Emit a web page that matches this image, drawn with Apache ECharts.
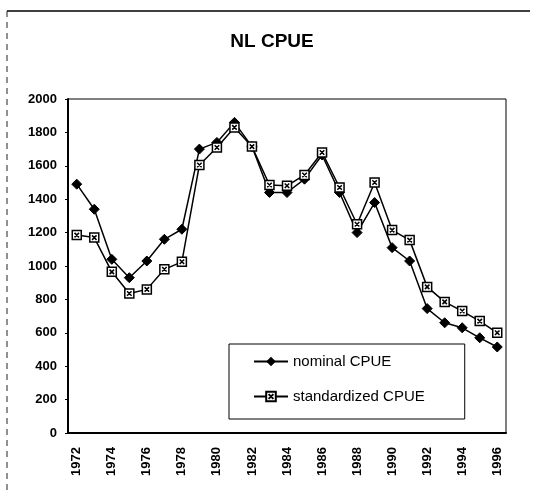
<!DOCTYPE html>
<html>
<head>
<meta charset="utf-8">
<script src="https://cdn.jsdelivr.net/npm/echarts@6/dist/echarts.min.js"></script>
<style>
  html, body { margin: 0; padding: 0; background: #fff; }
  #main { width: 554px; height: 495px; }
</style>
</head>
<body>
<div id="main"></div>
<script type="text/javascript">
// years on the x axis
var years = ['1972','1973','1974','1975','1976','1977','1978','1979','1980','1981','1982','1983','1984',
             '1985','1986','1987','1988','1989','1990','1991','1992','1993','1994','1995','1996'];
// values
var nominal = [1490, 1340, 1040, 930, 1030, 1160, 1220, 1700, 1740, 1860, 1715, 1440, 1440,
               1520, 1665, 1440, 1200, 1380, 1110, 1030, 745, 660, 630, 570, 515];
var standardized = [1185, 1170, 965, 835, 860, 980, 1025, 1605, 1710, 1830, 1715, 1485, 1480,
                    1545, 1680, 1470, 1250, 1500, 1215, 1155, 875, 785, 730, 670, 600];

var font = '"Liberation Sans", Arial, sans-serif';
// square with a cross inside, for the standardized series
var boxX = 'path://M0,0 L10,0 L10,10 L0,10 Z M2.5,2.5 L7.5,7.5 M7.5,2.5 L2.5,7.5';

var myChart = echarts.init(document.getElementById('main'));
var option = {
    backgroundColor: '#fff',
    animation: false,
    title: {
        text: 'NL CPUE',
        left: 267,
        textAlign: 'center',
        top: 27,
        textStyle: { fontFamily: font, fontSize: 19, fontWeight: 'bold', color: '#000' }
    },
    // page frame (top edge and scanned left edge)
    graphic: [
        { type: 'line', shape: { x1: 7, y1: 11, x2: 530, y2: 11 }, style: { stroke: '#000', lineWidth: 1.5 } },
        { type: 'line', shape: { x1: 7, y1: 11, x2: 7, y2: 495 }, style: { stroke: '#222', lineWidth: 1, lineDash: [6, 5] } }
    ],
    legend: {
        orient: 'vertical',
        left: 229,
        top: 344,
        padding: [10, 40, 15, 24],
        itemGap: 20,
        itemWidth: 34,
        itemHeight: 12,
        backgroundColor: '#fff',
        borderColor: '#000',
        borderWidth: 1,
        textStyle: { fontFamily: font, fontSize: 15, color: '#000' },
        data: ['nominal CPUE', 'standardized CPUE']
    },
    grid: {
        left: 68,
        right: 48,
        top: 99,
        bottom: 62,
        show: true,
        borderColor: '#000',
        borderWidth: 1
    },
    xAxis: {
        type: 'category',
        data: years,
        boundaryGap: true,
        axisLine: { lineStyle: { color: '#000', width: 2 } },
        axisTick: { show: false },
        axisLabel: {
            interval: 1,
            rotate: 90,
            margin: 14,
            fontFamily: font,
            fontSize: 13,
            fontWeight: 'bold',
            color: '#000'
        },
        splitLine: { show: false }
    },
    yAxis: {
        type: 'value',
        min: 0,
        max: 2000,
        interval: 200,
        axisLine: { show: true, lineStyle: { color: '#000', width: 2 } },
        axisTick: { show: true, length: 3, lineStyle: { color: '#000' } },
        axisLabel: {
            margin: 11,
            fontFamily: font,
            fontSize: 13,
            fontWeight: 'bold',
            color: '#000',
            formatter: function (v) { return String(v); }
        },
        splitLine: { show: false }
    },
    series: [
        {
            name: 'nominal CPUE',
            type: 'line',
            data: nominal,
            symbol: 'diamond',
            symbolSize: 10,
            lineStyle: { color: '#000', width: 1.5 },
            itemStyle: { color: '#000', borderColor: '#000' }
        },
        {
            name: 'standardized CPUE',
            type: 'line',
            data: standardized,
            symbol: boxX,
            symbolSize: 9,
            lineStyle: { color: '#000', width: 1.5 },
            itemStyle: { color: '#fff', borderColor: '#000', borderWidth: 1.5 }
        }
    ]
};
myChart.setOption(option);
</script>
</body>
</html>
